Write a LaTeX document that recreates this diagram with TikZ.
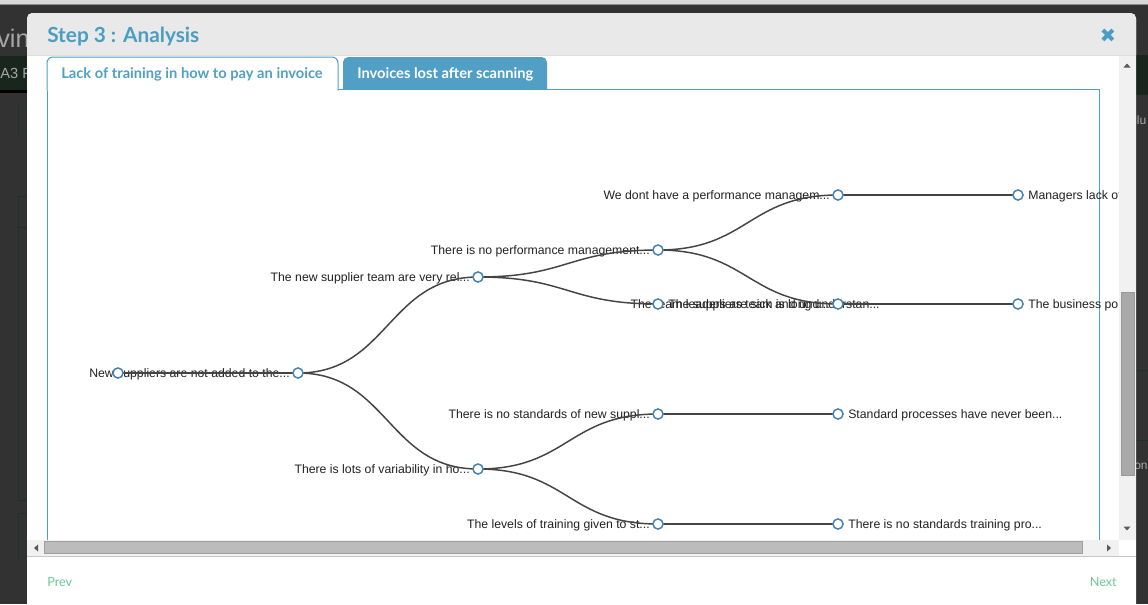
\documentclass[tikz,border=0pt]{standalone}
\usepackage{fontspec}
\setmainfont{Liberation Sans}
\newfontfamily\latofont{Lato}
\newfontfamily\latobold{Lato Bold}
\newfontfamily\dejavufont{DejaVu Sans}
\definecolor{bgdark}{HTML}{323232}
\definecolor{topgray}{HTML}{D8D8D8}
\definecolor{headgray}{HTML}{E9E9E9}
\definecolor{tabblue}{HTML}{519FC4}
\definecolor{titleblue}{HTML}{4A9DC3}
\definecolor{linkc}{HTML}{444444}
\definecolor{steel}{HTML}{4682B4}
\definecolor{textc}{HTML}{222222}
\definecolor{track}{HTML}{F1F1F1}
\definecolor{vthumb}{HTML}{A9A9A9}
\definecolor{hthumb}{HTML}{BCBCBC}
\definecolor{footgreen}{HTML}{6CC79B}
\definecolor{greenband}{HTML}{18261E}
\definecolor{boxline}{HTML}{1D3326}
\tikzset{
  treenode/.style={circle, draw=steel, fill=white, line width=1.1pt, minimum size=7.6pt, inner sep=0pt},
  link/.style={draw=linkc, line width=1.1pt},
  lbl/.style={inner sep=0pt, text=textc, font=\fontsize{9.2}{10}\selectfont},
  lblL/.style={lbl, anchor=base east},
  lblR/.style={lbl, anchor=base west},
  bgtext/.style={inner sep=0pt, text=gray!70},
  arrowtip/.style={fill=black!65, draw=none},
}
\begin{document}
\begin{tikzpicture}[x=0.75pt,y=-0.75pt]
\useasboundingbox (0,0) rectangle (1148,604);
% ---------- page background ----------
\fill[bgdark] (0,0) rectangle (1148,604);
\fill[topgray] (0,0) rectangle (1148,4);
\draw[black!45, line width=0.75pt] (0,4.5) -- (1148,4.5);
\fill[greenband] (0,56) rectangle (27,90);
\fill[black] (0,90) rectangle (27,93);
\fill[greenband] (1136,55) rectangle (1148,95);
\begin{scope}
  \clip (0,5) rectangle (27,604);
  \node[bgtext, anchor=base west, font=\fontsize{19}{20}\selectfont] (vin) at (-3,47) {vin};
  \node[bgtext, anchor=base west, font=\fontsize{11}{12}\selectfont] (a3) at (0,78) {A3 F};
  \draw[boxline, line width=0.75pt] (18,102) -- (18,137);
  \draw[boxline, line width=0.75pt] (18,500) -- (18,196) -- (27,196);
  \draw[boxline, line width=0.75pt] (18,227) -- (27,227);
  \draw[boxline, line width=0.75pt] (18,500) -- (27,500);
  \draw[boxline, line width=0.75pt] (18,562) -- (18,513) -- (27,513);
\end{scope}
\begin{scope}
  \clip (1136,5) rectangle (1148,604);
  \node[bgtext, anchor=base west, font=\fontsize{9}{10}\selectfont] (ilu) at (1134,124) {ilu};
  \node[bgtext, anchor=base west, font=\fontsize{9}{10}\selectfont] (on) at (1134,469) {on};
  \draw[boxline, line width=0.75pt] (1136,370) -- (1148,370);
  \draw[boxline, line width=0.75pt] (1136,440) -- (1148,440);
\end{scope}
% ---------- dialog ----------
\fill[white] (27,604) [rounded corners=4pt] -- (27,13) -- (1136,13) -- (1136,604);
\fill[headgray] (27,55) [rounded corners=4pt] -- (27,13) -- (1136,13) -- (1136,55);
\draw[black!13, line width=0.75pt] (27,55.5) -- (1136,55.5);
\node[anchor=base west, inner sep=0pt, text=titleblue, font=\latobold\fontsize{15.6}{17}\selectfont] (title) at (47,42.5) {Step 3 : Analysis};
\node[inner sep=0pt, text=titleblue, font=\dejavufont\fontsize{14.5}{15}\selectfont] (close) at (1108,35.5) {✖};
% ---------- tabs and panel ----------
\fill[tabblue, rounded corners=4pt] (343,57) rectangle (547,96);
\fill[white] (340,89) rectangle (550,100);
\draw[tabblue, line width=0.75pt] (47,89) rectangle (1099,545);
\filldraw[draw=tabblue, fill=white, line width=0.75pt] (47,90.5) [rounded corners=4.5pt] -- (47,57) -- (338,57) -- (338,90.5);
\node[anchor=base west, inner sep=0pt, text=tabblue, font=\latobold\fontsize{11}{12}\selectfont] (tab1) at (61,78.3) {Lack of training in how to pay an invoice};
\node[anchor=base west, inner sep=0pt, text=white, font=\latobold\fontsize{11}{12}\selectfont] (tab2) at (357,78.3) {Invoices lost after scanning};
% ---------- tree ----------
\begin{scope}
  \clip (47.5,89.5) rectangle (1119,540);
  \coordinate (pr) at (118,373);
  \coordinate (p1) at (298,373);
  \coordinate (pa) at (478,277);
  \coordinate (pb) at (478,469);
  \coordinate (pc) at (658,250);
  \coordinate (pd) at (658,304);
  \coordinate (pe) at (658,414);
  \coordinate (pf) at (658,524);
  \coordinate (pg) at (838,195);
  \coordinate (ph) at (838,304);
  \coordinate (pi) at (838,414);
  \coordinate (pj) at (838,524);
  \coordinate (pk) at (1018,195);
  \coordinate (pl) at (1018,304);
  % labels (baseline about 4.3px below the node centre)
  \node[lblL] (t1) at (290,377.3) {New suppliers are not added to the...};
  \node[lblL] (ta) at (470,281.3) {The new supplier team are very rel...};
  \node[lblL] (tb) at (470,473.3) {There is lots of variability in ho...};
  \node[lblL] (tc) at (650,254.3) {There is no performance management...};
  \node[lblR] (td) at (668,308.3) {The suppliers team is long understan...};
  \node[lblL] (te) at (650,418.3) {There is no standards of new suppl...};
  \node[lblL] (tf) at (650,528.3) {The levels of training given to st...};
  \node[lblL] (tg) at (830,199.3) {We dont have a performance managem...};
  \node[lblL] (th) at (830,308.3) {The team leaders are sick and und...};
  \node[lblR] (ti) at (848,418.3) {Standard processes have never been...};
  \node[lblR] (tj) at (848,528.3) {There is no standards training pro...};
  \node[lblR] (tk) at (1028,199.3) {Managers lack of ownership...};
  \node[lblR] (tl) at (1028,308.3) {The business policies...};
  % links
  \draw[link] (pr) -- (p1);
  \draw[link] (p1) .. controls +(90,0) and +(-90,0) .. (pa);
  \draw[link] (p1) .. controls +(90,0) and +(-90,0) .. (pb);
  \draw[link] (pa) .. controls +(90,0) and +(-90,0) .. (pc);
  \draw[link] (pa) .. controls +(90,0) and +(-90,0) .. (pd);
  \draw[link] (pb) .. controls +(90,0) and +(-90,0) .. (pe);
  \draw[link] (pb) .. controls +(90,0) and +(-90,0) .. (pf);
  \draw[link] (pc) .. controls +(90,0) and +(-90,0) .. (pg);
  \draw[link] (pc) .. controls +(90,0) and +(-90,0) .. (ph);
  \draw[link] (pe) -- (pi);
  \draw[link] (pf) -- (pj);
  \draw[link] (pg) -- (pk);
  \draw[link] (ph) -- (pl);
  % nodes
  \foreach \n in {pr,p1,pa,pb,pc,pd,pe,pf,pg,ph,pi,pj,pk,pl}
    \node[treenode] (n\n) at (\n) {};
\end{scope}
% ---------- scrollbars ----------
\fill[track] (1119,56) rectangle (1136,540);
\fill[vthumb] (1121,292) rectangle (1134,475);
\draw[black!40, line width=0.5pt] (1121,292) rectangle (1134,475);
\fill[arrowtip] (1123.5,67.5) -- (1130.5,67.5) -- (1127,63.5) -- cycle;
\fill[arrowtip] (1123.5,526.5) -- (1130.5,526.5) -- (1127,530.5) -- cycle;
\fill[track] (27,540) rectangle (1119,556);
\fill[white] (1119,540) rectangle (1136,556);
\fill[hthumb] (44,541.5) rectangle (1082,553.5);
\draw[black!38, line width=0.5pt] (44,541.5) rectangle (1082,553.5);
\fill[arrowtip] (38,544.5) -- (38,551.5) -- (34,548) -- cycle;
\fill[arrowtip] (1107,544.5) -- (1107,551.5) -- (1111,548) -- cycle;
% ---------- footer ----------
\draw[black!22, line width=0.9pt] (27,556.8) -- (1136,556.8);
\node[anchor=base west, inner sep=0pt, text=footgreen, font=\latofont\fontsize{9.5}{10}\selectfont] (prev) at (47,586) {Prev};
\node[anchor=base east, inner sep=0pt, text=footgreen, font=\latofont\fontsize{9.5}{10}\selectfont] (next) at (1117,586) {Next};
\end{tikzpicture}
\end{document}
